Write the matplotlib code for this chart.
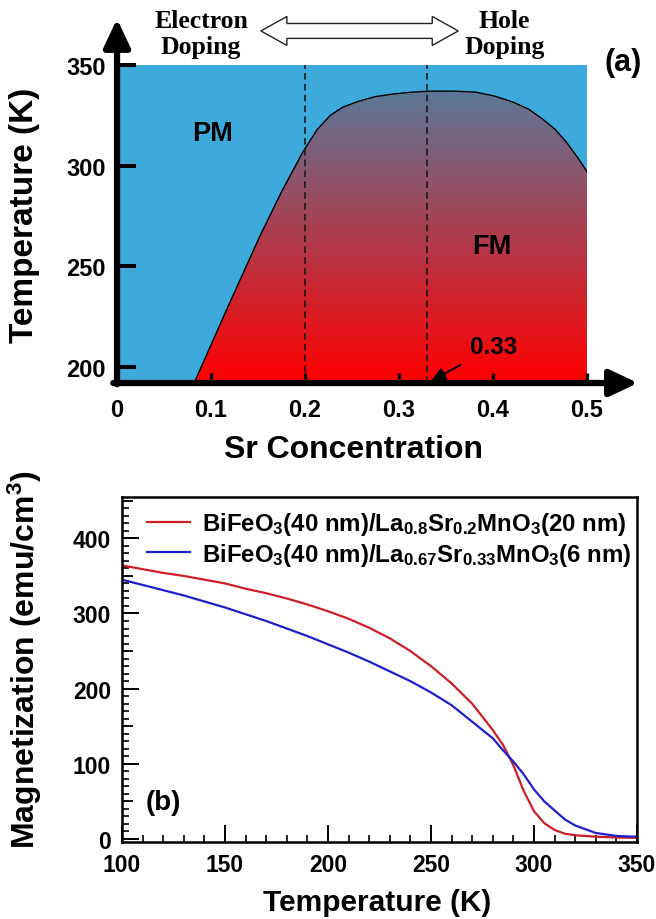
import numpy as np
import matplotlib
matplotlib.use("Agg")
import matplotlib.pyplot as plt
from matplotlib.colors import LinearSegmentedColormap
from matplotlib.patches import Polygon
from matplotlib.ticker import MultipleLocator

plt.rcParams['font.family'] = ['Liberation Sans', 'DejaVu Sans']
plt.rcParams['font.weight'] = 'bold'
plt.rcParams['mathtext.fontset'] = 'custom'
plt.rcParams['mathtext.bf'] = 'Liberation Sans:bold'
plt.rcParams['mathtext.rm'] = 'Liberation Sans:bold'
plt.rcParams['mathtext.default'] = 'bf'

# ---- (a) phase diagram: FM/PM boundary, Tc vs Sr content ----
sr_x = [0.082, 0.120, 0.152, 0.175, 0.198, 0.213, 0.227, 0.240, 0.257, 0.275,
        0.294, 0.314, 0.334, 0.358, 0.382, 0.402, 0.421, 0.438, 0.453, 0.466,
        0.478, 0.490, 0.500]
tc_k = [192.0, 232.0, 265.0, 287.0, 307.0, 318.0, 325.0, 329.0, 332.0, 334.3,
        335.6, 336.5, 337.0, 337.0, 336.5, 334.5, 331.6, 328.0, 323.0, 318.0,
        311.7, 304.0, 297.0]
marked_sr = [0.2, 0.33]
xticks_a = [0, 0.1, 0.2, 0.3, 0.4, 0.5]
xticklabels_a = ['0', '0.1', '0.2', '0.3', '0.4', '0.5']
yticks_a = [200, 250, 300, 350]

# ---- (b) M(T) curves ----
temp_k = [100, 110, 120, 130, 140, 150, 160, 170, 180, 190, 200, 210, 220, 230,
          240, 250, 260, 270, 280, 285, 290, 295, 300, 305, 310, 315, 320, 330,
          340, 350]
m_lsmo02 = [364, 359, 354, 350, 345, 340, 333, 327, 320, 312, 303, 293, 281, 267,
            250, 230, 207, 180, 145, 125, 98, 64, 37, 21, 12, 7, 5, 3, 2, 1.5]
m_lsmo033 = [345, 338, 331, 324, 316, 308, 299, 290, 280, 270, 259, 248, 236, 223,
             210, 195, 178, 156, 134, 118, 103, 86, 66, 50, 38, 26, 18, 8, 4, 3]
labels_b = [r'BiFeO$_3$(40 nm)/La$_{0.8}$Sr$_{0.2}$MnO$_3$(20 nm)',
            r'BiFeO$_3$(40 nm)/La$_{0.67}$Sr$_{0.33}$MnO$_3$(6 nm)']

PM_BLUE = '#3eaadb'
TOP_GRAY = '#5c7898'

fig = plt.figure(figsize=(6.56, 9.2), dpi=100)

# ================= panel (a) =================
ax = fig.add_axes([0.1784, 0.5826, 0.7165, 0.3457])
ax.set_xlim(0, 0.5)
ax.set_ylim(192, 350)
for s in ax.spines.values():
    s.set_visible(False)

ax.axvspan(0, 0.5, color=PM_BLUE, zorder=0.5, lw=0)

# vertical red -> gray gradient clipped to the FM dome
cmap = LinearSegmentedColormap.from_list('fm', ['#ff0000', TOP_GRAY])
grad = np.linspace(0, 1, 256).reshape(-1, 1)
img = ax.imshow(grad, cmap=cmap, origin='lower', aspect='auto',
                extent=[0, 0.5, 192, max(tc_k)], zorder=1)
dome = Polygon(list(zip(sr_x, tc_k)) + [(0.5, 192), (sr_x[0], 192)],
               closed=True, transform=ax.transData)
img.set_clip_path(dome)
ax.plot(sr_x, tc_k, color='k', lw=1.0, zorder=2)

ax.vlines(marked_sr, 192, 350, colors='#1a1a1a', linestyles=(0, (4, 2.5)),
          lw=1.2, zorder=2)

# arrowed axes
arrow_kw = dict(arrowstyle='-|>,head_length=1.7,head_width=0.8', lw=4.5,
                color='k', shrinkA=0, shrinkB=0)
ax.annotate('', xy=(0, 1.145), xytext=(0, -0.004), xycoords='axes fraction',
            arrowprops=arrow_kw, annotation_clip=False, zorder=5)
ax.annotate('', xy=(1.1085, 0), xytext=(-0.008, 0), xycoords='axes fraction',
            arrowprops=arrow_kw, annotation_clip=False, zorder=5)

ax.set_xticks(xticks_a)
ax.set_xticklabels(xticklabels_a)
ax.set_yticks(yticks_a)
ax.tick_params(axis='y', direction='in', length=14, width=2.9, labelsize=17, pad=8)
ax.tick_params(axis='x', direction='in', length=7, width=2.3, labelsize=17, pad=11)

ax.text(0.102, 316, 'PM', fontsize=19.5, ha='center', va='center')
ax.text(0.399, 260, 'FM', fontsize=19.5, ha='center', va='center')
ax.annotate('0.33', xy=(0.334, 193), xytext=(0.401, 210), fontsize=17.5,
            ha='center', va='center',
            arrowprops=dict(arrowstyle='-|>,head_length=0.5,head_width=0.22',
                            color='k', lw=1.4, shrinkA=6, shrinkB=0))
ax.text(0.538, 351.5, '(a)', fontsize=22, ha='center', va='center',
        clip_on=False)

serif = ['Liberation Serif', 'DejaVu Serif']
ax.text(0.0894, 365.6, 'Electron\nDoping', family=serif, fontsize=18.5,
        ha='center', va='center', linespacing=1.15, clip_on=False)
ax.text(0.412, 365.6, 'Hole\nDoping', family=serif, fontsize=18.5,
        ha='center', va='center', linespacing=1.15, clip_on=False)

# hollow double-headed arrow between the two doping labels
x0, x1, yc = 0.153, 0.363, 366.9
hb, hh, hl = 3.7, 7.2, 0.0277
darrow = Polygon([(x0, yc), (x0 + hl, yc + hh), (x0 + hl, yc + hb),
                  (x1 - hl, yc + hb), (x1 - hl, yc + hh), (x1, yc),
                  (x1 - hl, yc - hh), (x1 - hl, yc - hb), (x0 + hl, yc - hb),
                  (x0 + hl, yc - hh)], closed=True, fc='white', ec='#222222',
                 lw=1.0, clip_on=False, zorder=5)
ax.add_patch(darrow)

fig.text(25 / 656, 1 - 215 / 920, 'Temperature (K)', rotation=90, fontsize=24,
         ha='center', va='center')
fig.text(354 / 656, 1 - 450 / 920, 'Sr Concentration', fontsize=23,
         ha='center', va='center')

# ================= panel (b) =================
bx = fig.add_axes([0.186, 0.0837, 0.785, 0.375])
bx.plot(temp_k, m_lsmo02, color='#cc1f27', lw=1.6, label=labels_b[0])
bx.plot(temp_k, m_lsmo033, color='#1f1fcc', lw=1.6, label=labels_b[1])
bx.set_xlim(100, 350)
bx.set_ylim(-4, 455)
for s in bx.spines.values():
    s.set_linewidth(1.8)

bx.xaxis.set_major_locator(MultipleLocator(50))
bx.xaxis.set_minor_locator(MultipleLocator(10))
bx.yaxis.set_major_locator(MultipleLocator(100))
bx.yaxis.set_minor_locator(MultipleLocator(10))
bx.tick_params(which='major', direction='in', length=12, width=1.4,
               labelsize=16.5, pad=8)
bx.tick_params(which='minor', direction='in', length=5, width=1.2)
sec = bx.secondary_yaxis('left')
sec.set_yticks(np.arange(50, 451, 100))
sec.tick_params(direction='in', length=8, width=1.3, labelleft=False)
sec.spines['left'].set_visible(False)

leg = bx.legend(loc='upper left', bbox_to_anchor=(0.048, 0.962), frameon=False,
                fontsize=17.3, handlelength=1.8, handletextpad=0.5,
                labelspacing=0.15, borderpad=0, borderaxespad=0)

bx.text(120, 49, '(b)', fontsize=20, ha='center', va='center')
fig.text(25 / 656, 1 - 660 / 920, 'Magnetization (emu/cm$^3$)', rotation=90,
         fontsize=23, ha='center', va='center')
fig.text(377 / 656, 1 - 903 / 920, 'Temperature (K)', fontsize=21.5,
         ha='center', va='center')

fig.savefig('out.png', dpi=100)
